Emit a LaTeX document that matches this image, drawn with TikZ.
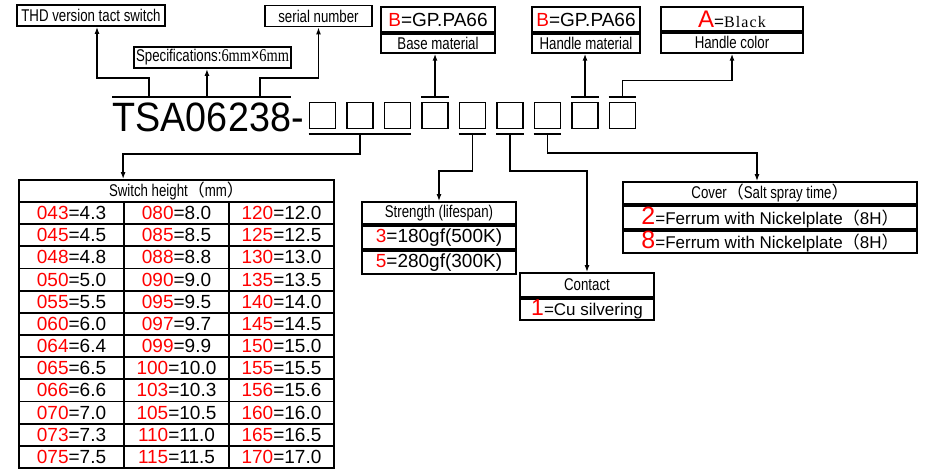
\documentclass[tikz,border=0pt]{standalone}
\usepackage{fontspec}
\setmainfont{Liberation Sans}
\newfontfamily\narrowfont{Liberation Sans}[FakeStretch=0.78]
\newfontfamily\serifnarrow{Liberation Serif}[FakeStretch=0.8]
\newfontfamily\pnfont{Liberation Sans}[FakeStretch=0.92]
\newfontfamily\widefont{Liberation Serif}[LetterSpace=7]
\newfontfamily\cjk{Noto Sans CJK SC}
\usepackage{tikz}
\usetikzlibrary{positioning,arrows.meta}
\definecolor{codered}{RGB}{255,0,0}
\newcommand{\codenum}[1]{\textcolor{codered}{#1}}
\tikzset{
  labbox/.style={draw,line width=1.8pt,inner sep=0pt,minimum height=21pt,font=\narrowfont\fontsize{17}{19}\selectfont},
  capbox/.style={draw,line width=1.8pt,inner sep=0pt,minimum height=19pt,font=\narrowfont\fontsize{17}{19}\selectfont},
  valbox/.style={draw,line width=1.8pt,inner sep=0pt,minimum height=25pt,font=\fontsize{19}{21}\selectfont},
  hcell/.style={draw,line width=1.8pt,inner sep=0pt,minimum height=22pt,font=\narrowfont\fontsize{17}{19}\selectfont},
  rowcell/.style={draw,line width=1.8pt,inner sep=0pt,minimum height=23pt,font=\fontsize{19}{21}\selectfont},
  cell/.style={draw,line width=1.8pt,inner sep=0pt,minimum width=105pt,minimum height=22.17pt,font=\fontsize{19}{21}\selectfont},
  digitbox/.style={draw,line width=1.8pt,inner sep=0pt,minimum size=26pt},
  pnpart/.style={inner sep=0pt,anchor=base west,font=\pnfont\fontsize{41}{41}\selectfont},
  bar/.style={line width=1.9pt},
  conarr/.style={-{Latex[length=7pt,width=5pt]},line width=1.8pt}
}

\begin{document}
\begin{tikzpicture}[x=1pt,y=-1pt]
  \useasboundingbox (0,0) rectangle (926,473);
  % part number
  \node[pnpart] (pnA) at (112,132) {TSA};
  \node[pnpart] (pnB) at (pnA.base east) {06};
  \node[pnpart] (pnC) at (pnB.base east) {238};
  \node[pnpart] (pnD) at (pnC.base east) {-};
  \foreach \i in {1,...,9}
    \node[digitbox] (sq\i) at ({322.5+(\i-1)*37.5},115.5) {};
  \coordinate (topline) at (0,97);
  \coordinate (barA) at (pnA.center |- topline);
  \coordinate (barB) at (pnB.center |- topline);
  \coordinate (barC) at (pnC.center |- topline);
  \draw[bar] (pnA.west |- topline) -- (pnA.east |- topline);
  \draw[bar] (pnB.west |- topline) -- (pnB.east |- topline);
  \draw[bar] (pnC.west |- topline) -- (pnC.east |- topline);
  \foreach \i in {4,8,9}
    \draw[bar] ([yshift=5pt]sq\i.north west) -- ([yshift=5pt]sq\i.north east);
  \draw[bar] ([yshift=-5pt]sq1.south west) -- ([yshift=-5pt]sq3.south east);
  \foreach \i in {5,6,7}
    \draw[bar] ([yshift=-5pt]sq\i.south west) -- ([yshift=-5pt]sq\i.south east);
  \coordinate (bar4) at ([yshift=5pt]sq4.north);
  \coordinate (bar8) at ([yshift=5pt]sq8.north);

  % upper labels
  \node[labbox,minimum width=148pt] (thd) at (91,15.5) {THD version tact switch};
  \node[labbox,minimum width=157pt] (spec) at (212.5,57.5)
    {Specifications:{\serifnarrow\fontsize{18}{19}\selectfont 6mm}{\fontsize{18}{19}\selectfont ×}{\serifnarrow\fontsize{18}{19}\selectfont 6mm}};
  \node[labbox,minimum width=107pt] (serial) at (318.5,16) {serial number};
  \node[valbox,minimum width=114pt] (basev) at (438,19.5) {\codenum{B}=GP.PA66};
  \node[capbox,minimum width=114pt,below=0pt of basev] (basec) {Base material};
  \node[valbox,minimum width=108pt] (handv) at (586,19.5) {\codenum{B}=GP.PA66};
  \node[capbox,minimum width=108pt,below=0pt of handv] (handc) {Handle material};
  \node[valbox,minimum width=142pt,minimum height=24pt,font=\fontsize{17}{18}\selectfont] (colv) at (732,19)
    {{\fontsize{24}{24}\selectfont\codenum{A}}={\widefont\fontsize{16}{17}\selectfont Black}};
  \node[capbox,minimum width=142pt,minimum height=20pt,below=0pt of colv] (colc) {Handle color};

  % switch height table
  \node[hcell,minimum width=315pt] (hgt) at (176.5,191) {Switch height{\cjk （}mm{\cjk ）}};
  \foreach \a/\b/\c/\d/\e/\f [count=\r] in {043/4.3/080/8.0/120/12.0, 045/4.5/085/8.5/125/12.5,
      048/4.8/088/8.8/130/13.0, 050/5.0/090/9.0/135/13.5, 055/5.5/095/9.5/140/14.0,
      060/6.0/097/9.7/145/14.5, 064/6.4/099/9.9/150/15.0, 065/6.5/100/10.0/155/15.5,
      066/6.6/103/10.3/156/15.6, 070/7.0/105/10.5/160/16.0, 073/7.3/110/11.0/165/16.5,
      075/7.5/115/11.5/170/17.0} {
    \node[cell] (ha\r) at (71.5,{202+(\r-0.5)*22.17}) {\codenum{\a}=\b};
    \node[cell] (hb\r) at (176.5,{202+(\r-0.5)*22.17}) {\codenum{\c}=\d};
    \node[cell] (hc\r) at (281.5,{202+(\r-0.5)*22.17}) {\codenum{\e}=\f};
  }

  % strength
  \node[hcell,minimum width=154pt] (strh) at (439,213) {Strength (lifespan)};
  \node[rowcell,minimum width=154pt,below=0pt of strh] (str1) {\codenum{3}=180gf(500K)};
  \node[rowcell,minimum width=154pt,below=0pt of str1] (str2) {\codenum{5}=280gf(300K)};

  % contact
  \node[hcell,minimum width=134pt,minimum height=24pt] (conh) at (587,285) {Contact};
  \node[rowcell,minimum width=134pt,minimum height=21pt,below=0pt of conh,font=\fontsize{17}{18}\selectfont] (con1)
    {{\fontsize{23}{23}\selectfont\codenum{1}}=Cu silvering};

  % cover
  \node[hcell,minimum width=294pt] (covh) at (770,193) {Cover{\cjk （}Salt spray time{\cjk ）}};
  \node[rowcell,minimum width=294pt,below=0pt of covh,font=\fontsize{17}{19}\selectfont] (cov1)
    {{\fontsize{25}{25}\selectfont\codenum{2}}=Ferrum with Nickelplate{\cjk （}8H{\cjk ）}};
  \node[rowcell,minimum width=294pt,minimum height=22pt,below=0pt of cov1,font=\fontsize{17}{19}\selectfont] (cov2)
    {{\fontsize{25}{25}\selectfont\codenum{8}}=Ferrum with Nickelplate{\cjk （}8H{\cjk ）}};

  % connectors
  \draw[conarr] (barA) -- ++(0,-19) -| ([xshift=6pt]thd.south);
  \draw[conarr] (barB) -- (barB |- spec.south);
  \draw[conarr] (barC) -- ++(0,-19) -| (serial.south);
  \draw[conarr] (bar4) -- (bar4 |- basec.south);
  \draw[conarr] (bar8) -- (bar8 |- handc.south);
  \draw[conarr] ([yshift=5pt]sq9.north) -- ++(0,-16) -| (colc.south);
  \draw[conarr] ([yshift=-5pt]sq2.south) -- ++(0,20) -| (hb1.north west |- hgt.north);
  \draw[conarr] ([yshift=-5pt]sq5.south) -- ++(0,37) -| (strh.north);
  \draw[conarr] ([yshift=-5pt]sq6.south) -- ++(0,37) -| (conh.north);
  \draw[conarr] ([yshift=-5pt]sq7.south) -- ++(0,19) -| ([xshift=-13pt]covh.north);
\end{tikzpicture}
\end{document}
